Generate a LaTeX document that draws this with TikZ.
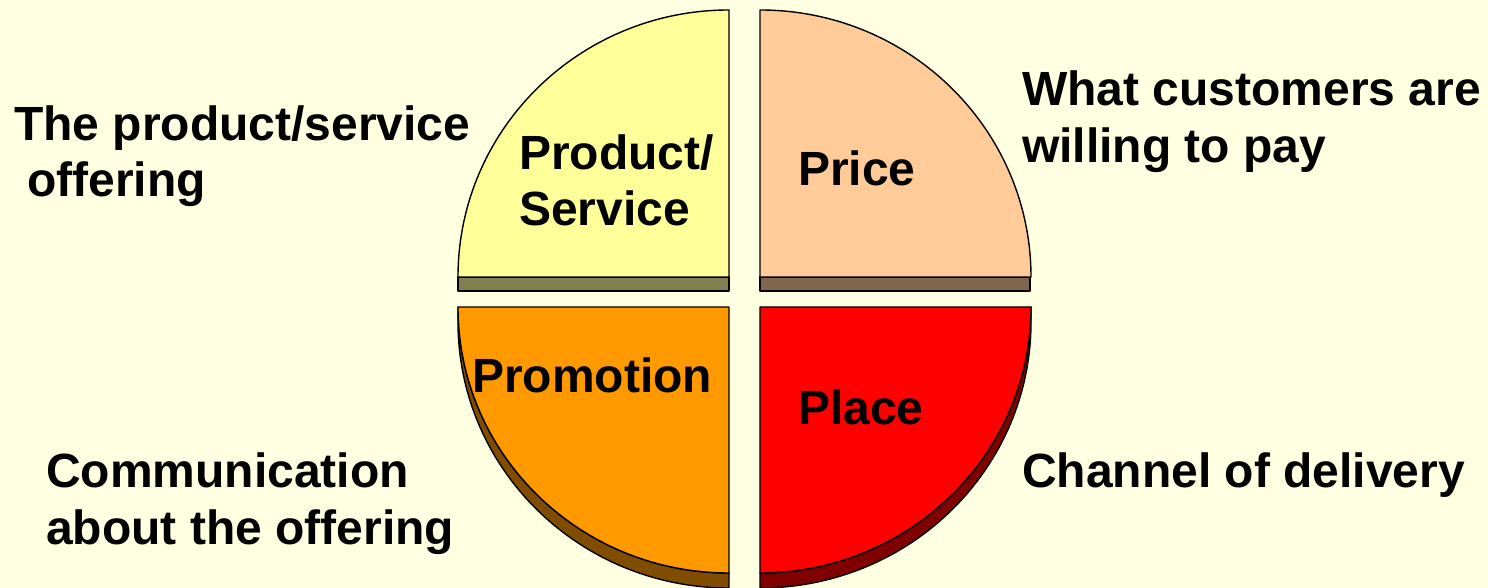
\documentclass[tikz,border=0pt]{standalone}
\usepackage{fontspec}
\setmainfont{Liberation Sans}
\definecolor{bg}{HTML}{FFFFE1}
\definecolor{prodtop}{HTML}{FFFF99}
\definecolor{prodside}{HTML}{808050}
\definecolor{pricetop}{HTML}{FFCC99}
\definecolor{priceside}{HTML}{80664D}
\definecolor{promotop}{HTML}{FF9900}
\definecolor{promoside}{HTML}{7F4C00}
\definecolor{placetop}{HTML}{FF0000}
\definecolor{placeside}{HTML}{800000}
\begin{document}
\begin{tikzpicture}[x=1pt,y=1pt,
  lbl/.style={anchor=base west, inner sep=0pt, font=\fontsize{48}{57}\selectfont\bfseries},
  slice/.style={draw=black, line width=1.4pt, line join=round}]

% page background and frame
\fill[bg] (0,0) rectangle (1488,588);
\useasboundingbox (0,0) rectangle (1488,588);

% Product/Service: upper-left quarter with its front face
\draw[slice, fill=prodside] (458,297) rectangle (729,311);
\draw[slice, fill=prodtop] (729,311) -- (458,311)
  arc[start angle=180, end angle=90, x radius=271, y radius=267] -- cycle;

% Price: upper-right quarter with its front face
\draw[slice, fill=priceside] (760,297) rectangle (1030,311);
\draw[slice, fill=pricetop] (760,311) -- (760,578)
  arc[start angle=90, end angle=0, x radius=271, y radius=267] -- cycle;

% Promotion: lower-left quarter, curved side first
\draw[slice, fill=promoside] (458,281)
  arc[start angle=180, end angle=270, x radius=271, y radius=266]
  -- (729,0)
  arc[start angle=270, end angle=180, x radius=271, y radius=266] -- cycle;
\draw[slice, fill=promotop] (729,281) -- (458,281)
  arc[start angle=180, end angle=270, x radius=271, y radius=266] -- cycle;

% Place: lower-right quarter, curved side first
\draw[slice, fill=placeside] (1031,281)
  arc[start angle=0, end angle=-90, x radius=271, y radius=266]
  -- (760,0)
  arc[start angle=-90, end angle=0, x radius=271, y radius=266] -- cycle;
\draw[slice, fill=placetop] (760,281) -- (1031,281)
  arc[start angle=0, end angle=-90, x radius=271, y radius=266] -- cycle;

% slice titles
\node[lbl] (prodTitleA) at (519,418) {Product/};
\node[lbl] (prodTitleB) at (519,362) {Service};
\node[lbl] (priceTitle) at (798,402) {Price};
\node[lbl] (promoTitle) at (472,195) {Promotion};
\node[lbl] (placeTitle) at (798,163) {Place};

% explanations beside each quarter
\node[lbl] (prodNoteA) at (14,447) {The product/service};
\node[lbl] (prodNoteB) at (27,391) {offering};
\node[lbl] (priceNoteA) at (1022,482) {What customers are};
\node[lbl] (priceNoteB) at (1022,425) {willing to pay};
\node[lbl] (promoNoteA) at (46,100) {Communication};
\node[lbl] (promoNoteB) at (46,43) {about the offering};
\node[lbl] (placeNote) at (1022,100) {Channel of delivery};
\end{tikzpicture}
\end{document}
